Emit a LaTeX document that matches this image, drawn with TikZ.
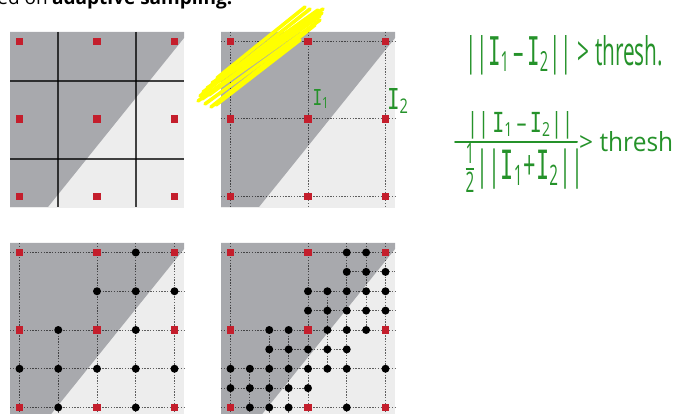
\documentclass[tikz,border=0pt]{standalone}
\usepackage{fontspec}
\usepackage{amsmath}
\setmainfont{Open Sans}
\newfontfamily\handI{DejaVu Sans Mono}
\definecolor{pdark}{HTML}{A8A9AD}
\definecolor{plight}{HTML}{EDEDED}
\definecolor{sqred}{HTML}{C41E2C}
\definecolor{hgreen}{HTML}{25922A}
\definecolor{hyellow}{HTML}{FFFF00}
\tikzset{
  gridline/.style={draw=black, draw opacity=0.6, line width=1pt, dash pattern=on 1.4pt off 1.4pt},
  cellline/.style={draw=black, draw opacity=0.72, line width=1.1pt},
  hand/.style={text=hgreen, inner sep=0pt},
  highlighter/.style={draw=hyellow, line width=3.6pt, line cap=round, line join=round},
  fracbar/.style={draw=hgreen, line width=2pt, line cap=round},
}
\newcommand\HI{{\handI I}}
\newcommand\panelbg[2]{%
  \begin{scope}[shift={(#1,#2)}]
    \fill[plight] (0,0) rectangle (174,176);
    \fill[pdark] (0,0) -- (174,0) -- (174,6) -- (38,175) -- (0,175) -- cycle;
  \end{scope}}
\newcommand\rsq[2]{\fill[sqred] (#1,#2) ++(-3.7pt,-3.7pt) rectangle ++(7.4pt,7.4pt);}
\newcommand\bdot[2]{\fill[black] (#1,#2) circle[radius=4pt];}
\begin{document}
\begin{tikzpicture}[x=1pt,y=-1pt]
\useasboundingbox (0,0) rectangle (675,414);
\clip (0,0) rectangle (675,414);

% heading (cropped at top)
\node[anchor=base east, inner sep=0] (headpre) at (48,5) {\fontsize{19}{22}\selectfont Based on};
\node[anchor=base west, inner sep=0] (head) at (52,5) {\resizebox{180pt}{!}{\fontsize{19}{22}\selectfont\bfseries adaptive sampling.}};

% ---------- panel 1 ----------
\panelbg{10}{32}
\begin{scope}[shift={(10,32)}]
  \draw[cellline] (48,0) -- (48,175);
  \draw[cellline] (126,0) -- (126,175);
  \draw[cellline] (0,49) -- (174,49);
  \draw[cellline] (0,127) -- (174,127);
\end{scope}
\begin{scope}[shift={(19.5,41.5)},x=77.5pt,y=-77.5pt]
  \foreach \i in {0,1,2}{\foreach \j in {0,1,2}{\rsq{\i}{\j}}}
\end{scope}

% ---------- panel 2 ----------
\panelbg{221}{32}
\begin{scope}[shift={(230.5,41.5)},x=77.5pt,y=-77.5pt]
  \foreach \k in {0,1,2}{
    \draw[gridline] (-0.123,\k) -- (2.123,\k);
    \draw[gridline] (\k,-0.123) -- (\k,2.123);}
  \foreach \i in {0,1,2}{\foreach \j in {0,1,2}{\rsq{\i}{\j}}}
\end{scope}

% ---------- panel 3 ----------
\panelbg{10}{243}
\begin{scope}[shift={(19.5,252.5)},x=38.75pt,y=-38.75pt]
  \foreach \j/\a/\b in {0/0/4,1/2/4,2/0/4,3/0/4,4/0/4}{
    \pgfmathsetmacro\aa{\a==0 ? -0.245 : \a}
    \pgfmathsetmacro\bb{\b==4 ? 4.245 : \b}
    \draw[gridline] (\aa,\j) -- (\bb,\j);}
  \foreach \i/\a/\b in {0/0/4,1/2/4,2/0/4,3/0/4,4/0/4}{
    \pgfmathsetmacro\aa{\a==0 ? -0.245 : \a}
    \pgfmathsetmacro\bb{\b==4 ? 4.3 : \b}
    \draw[gridline] (\i,\aa) -- (\i,\bb);}
  \foreach \i/\j in {0/0,2/0,4/0,0/2,2/2,4/2,0/4,2/4,4/4}{\rsq{\i}{\j}}
  \foreach \i/\j in {3/0,2/1,3/1,4/1,1/2,3/2,0/3,1/3,2/3,3/3,4/3,1/4,3/4}{\bdot{\i}{\j}}
\end{scope}

% ---------- panel 4 ----------
\panelbg{221}{243}
\begin{scope}[shift={(230.5,252.5)},x=19.375pt,y=-19.375pt]
  \foreach \j/\a/\b in {0/0/8,1/6/8,2/4/8,3/4/8,4/0/8,5/2/6,6/0/8,7/0/4,8/0/8}{
    \pgfmathsetmacro\aa{\a==0 ? -0.49 : \a}
    \pgfmathsetmacro\bb{\b==8 ? 8.49 : \b}
    \draw[gridline] (\aa,\j) -- (\bb,\j);}
  \foreach \i/\a/\b in {0/0/8,1/6/8,2/4/8,3/4/8,4/0/8,5/2/6,6/0/8,7/0/4,8/0/8}{
    \pgfmathsetmacro\aa{\a==0 ? -0.49 : \a}
    \pgfmathsetmacro\bb{\b==8 ? 8.6 : \b}
    \draw[gridline] (\i,\aa) -- (\i,\bb);}
  \foreach \i/\j in {0/0,4/0,8/0,0/4,4/4,8/4,0/8,4/8,8/8}{\rsq{\i}{\j}}
  \foreach \j/\row in {0/{6,7},1/{6,7,8},2/{4,5,6,7,8},3/{4,5,6,7,8},4/{2,3,5,6,7},5/{2,3,4,5,6},6/{0,1,2,3,4,5,6,8},7/{0,1,2,3,4},8/{1,2,3,6}}{
    \foreach \i in \row {\bdot{\i}{\j}}}
\end{scope}

% ---------- yellow highlighter scribble ----------
\draw[highlighter] (198,101) -- (312,18);
\draw[highlighter] (200,96) -- (310,9);
\draw[highlighter] (203,92) -- (318,10);
\draw[highlighter] (207,88) -- (322,13);
\draw[highlighter] (212,83) -- (323,9);
\draw[highlighter] (217,78) -- (305,7);
\draw[highlighter] (205,104) -- (320,20);
\draw[highlighter] (211,107) -- (315,25);
\draw[highlighter] (202,99) -- (320,16);
\draw[highlighter] (216,105) -- (300,40);
\draw[highlighter] (209,95) -- (296,30);

% ---------- green handwriting ----------
\node[hand] (lblI1) at (321,99) {\resizebox{17pt}{16pt}{\HI\textsubscript{1}}};
\node[hand] (lblI2) at (398,101) {\resizebox{22pt}{21pt}{\HI\textsubscript{2}}};

\node[hand, anchor=west] (eq1) at (465,55) {\resizebox{198pt}{30pt}{||\HI\textsubscript{1}\,–\,\HI\textsubscript{2}|| \textgreater\ thresh.}};

\node[hand] (eqnum) at (520,125) {\resizebox{106pt}{21pt}{||\,\HI\textsubscript{1}\,–\,\HI\textsubscript{2}||}};
\draw[fracbar] (455,142) -- (577,142);
\node[hand] (eqden) at (523,168) {\resizebox{120pt}{36pt}{$\frac{\text{1}}{\text{2}}$||\HI\textsubscript{1}+\HI\textsubscript{2}||}};
\node[hand, anchor=west] (eqgt) at (579,142) {\resizebox{94pt}{20pt}{\textgreater\ thresh}};
\end{tikzpicture}
\end{document}
